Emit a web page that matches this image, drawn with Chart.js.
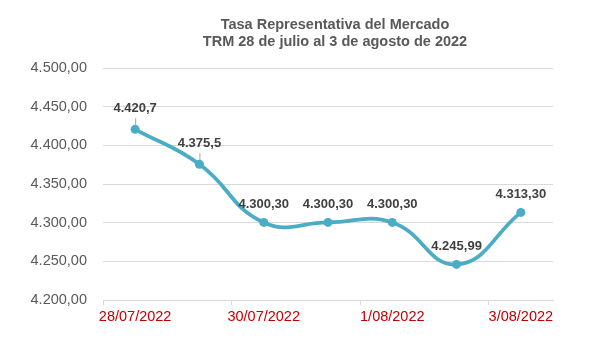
<!DOCTYPE html>
<html>
<head>
<meta charset="utf-8">
<script src="https://cdn.jsdelivr.net/npm/chart.js@4"></script>
<style>
  html, body { margin: 0; padding: 0; background: #fff; }
  #wrap { width: 601px; height: 338px; }
</style>
</head>
<body>
<div id="wrap"><canvas id="trmChart"></canvas></div>
<script>
const fechas = ["28/07/2022", "29/07/2022", "30/07/2022", "31/07/2022", "1/08/2022", "2/08/2022", "3/08/2022"];
const trm = [4420.7, 4375.5, 4300.30, 4300.30, 4300.30, 4245.99, 4313.30];
const decimales = [1, 1, 2, 2, 2, 2, 2];
const titulo = ["Tasa Representativa del Mercado", "TRM 28 de julio al 3 de agosto de 2022"];
const yMin = 4200;
const yMax = 4500;
const yStep = 50;

const FUENTE = "'Liberation Sans', Arial, sans-serif";

// 4420.7 -> "4.420,7"
function fmt(v, d) {
    const parts = v.toFixed(d).split(".");
    const ent = parts[0].replace(/\B(?=(\d{3})+(?!\d))/g, ".");
    return parts[1] ? ent + "," + parts[1] : ent;
}

// two-line title, set a little right of the plot centre
const encabezado = {
    id: "encabezado",
    afterDraw(chart) {
        const ctx = chart.ctx;
        const a = chart.chartArea;
        const cx = (a.left + a.right) / 2 + 7;
        ctx.save();
        ctx.font = "bold 14.5px " + FUENTE;
        ctx.fillStyle = "#595959";
        ctx.textAlign = "center";
        ctx.textBaseline = "middle";
        titulo.forEach((t, i) => ctx.fillText(t, cx, 25 + i * 16.5));
        ctx.restore();
    }
};

// value labels above each point, with a short leader on the first two
const etiquetas = {
    id: "etiquetas",
    afterDatasetsDraw(chart) {
        const ctx = chart.ctx;
        const meta = chart.getDatasetMeta(0);
        ctx.save();
        ctx.font = "bold 13px " + FUENTE;
        ctx.fillStyle = "#404040";
        ctx.textAlign = "center";
        ctx.textBaseline = "middle";
        meta.data.forEach((pt, i) => {
            const leader = i < 2;
            const off = leader ? 21 : 18;
            ctx.fillText(fmt(trm[i], decimales[i]), pt.x, pt.y - off);
            if (leader) {
                ctx.strokeStyle = "#a6a6a6";
                ctx.lineWidth = 1;
                ctx.beginPath();
                ctx.moveTo(pt.x + 0.5, pt.y - off + 10);
                ctx.lineTo(pt.x + 0.5, pt.y - 4);
                ctx.stroke();
            }
        });
        ctx.restore();
    }
};

new Chart(document.getElementById("trmChart"), {
    type: "line",
    data: {
        labels: fechas,
        datasets: [{
            data: trm,
            borderColor: "#4bacc6",
            backgroundColor: "#4bacc6",
            borderWidth: 3.8,
            pointRadius: 4.5,
            pointHoverRadius: 4.5,
            pointBorderWidth: 0,
            tension: 0.45,
            fill: false
        }]
    },
    options: {
        responsive: true,
        maintainAspectRatio: false,
        animation: false,
        layout: { padding: { top: 68, left: 0, right: 48, bottom: 0 } },
        plugins: {
            legend: { display: false },
            tooltip: { enabled: false },
            title: { display: false }
        },
        scales: {
            x: {
                offset: true,
                border: { color: "#d9d9d9" },
                grid: {
                    offset: true,
                    drawOnChartArea: false,
                    tickLength: 5,
                    tickColor: c => (c.index % 2 === 0 ? "#d9d9d9" : "rgba(0,0,0,0)")
                },
                ticks: {
                    autoSkip: false,
                    maxRotation: 0,
                    padding: 3,
                    color: "#c00000",
                    font: { family: FUENTE, size: 14.5 },
                    callback: (v, i) => (i % 2 === 0 ? fechas[i] : "")
                },
                afterFit: s => { s.height = 38; }
            },
            y: {
                min: yMin,
                max: yMax,
                border: { display: false },
                grid: { color: "#d9d9d9", drawTicks: false },
                ticks: {
                    stepSize: yStep,
                    padding: 16,
                    color: "#595959",
                    font: { family: FUENTE, size: 14.5 },
                    callback: v => fmt(v, 2)
                },
                afterFit: s => { s.width = 103; }
            }
        }
    },
    plugins: [etiquetas, encabezado]
});
</script>
</body>
</html>
